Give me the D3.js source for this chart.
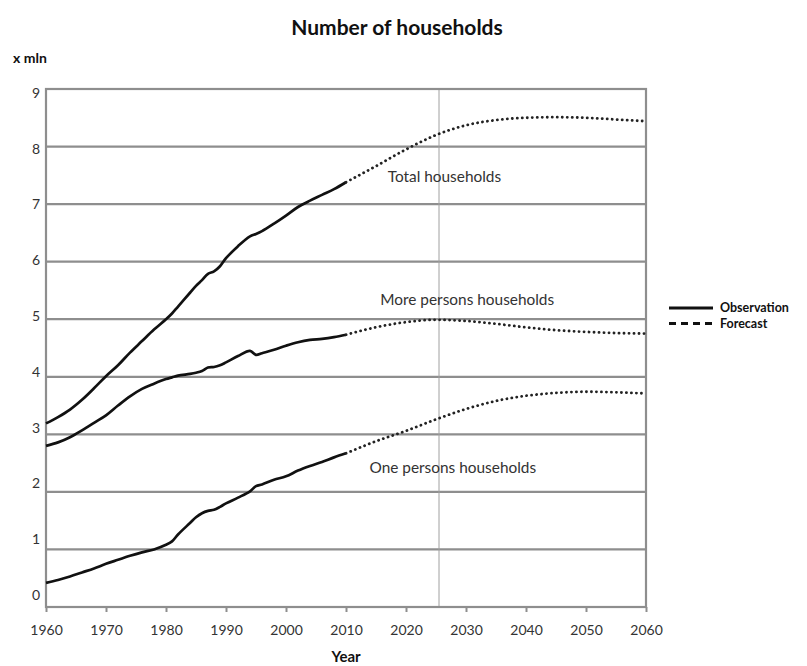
<!DOCTYPE html>
<html>
<head>
<meta charset="utf-8">
<script src="https://cdn.jsdelivr.net/npm/d3@7"></script>
<style>
  html, body { margin: 0; padding: 0; background: #fff; }
  svg { display: block; font-family: Lato, "Open Sans", sans-serif; }
</style>
</head>
<body>
<svg id="chart" width="807" height="666"></svg>
<script>
// Households in millions: observed series (solid) and projection (dotted)
const obsYears = [1960, 1962, 1964, 1966, 1968, 1970, 1972, 1974, 1976, 1978, 1980, 1981, 1982, 1984, 1985, 1986, 1987, 1988, 1989, 1990, 1992, 1994, 1995, 1996, 1998, 2000, 2002, 2004, 2006, 2008, 2010];
const obsTotal = [3.19, 3.30, 3.43, 3.60, 3.80, 4.01, 4.20, 4.42, 4.62, 4.82, 5.00, 5.10, 5.22, 5.46, 5.58, 5.68, 5.79, 5.83, 5.92, 6.06, 6.27, 6.44, 6.48, 6.53, 6.66, 6.80, 6.95, 7.06, 7.16, 7.26, 7.38];
const obsMore  = [2.80, 2.86, 2.95, 3.07, 3.20, 3.33, 3.50, 3.66, 3.79, 3.88, 3.96, 3.99, 4.02, 4.05, 4.07, 4.10, 4.16, 4.17, 4.20, 4.25, 4.36, 4.45, 4.38, 4.41, 4.47, 4.54, 4.60, 4.64, 4.66, 4.69, 4.73];
const obsOne   = [0.42, 0.47, 0.53, 0.60, 0.67, 0.75, 0.82, 0.89, 0.95, 1.00, 1.08, 1.14, 1.26, 1.46, 1.56, 1.63, 1.67, 1.69, 1.74, 1.80, 1.90, 2.01, 2.10, 2.13, 2.21, 2.27, 2.37, 2.45, 2.52, 2.60, 2.67];

const fcYears = [2010, 2015, 2020, 2025, 2030, 2035, 2040, 2045, 2050, 2055, 2060];
const fcTotal = [7.38, 7.66, 7.95, 8.20, 8.37, 8.46, 8.50, 8.51, 8.50, 8.47, 8.44];
const fcMore  = [4.73, 4.86, 4.95, 4.99, 4.97, 4.92, 4.86, 4.81, 4.78, 4.76, 4.75];
const fcOne   = [2.67, 2.88, 3.06, 3.26, 3.44, 3.58, 3.67, 3.72, 3.74, 3.73, 3.71];

const seriesNames = ["Total households", "More persons households", "One persons households"];
// label anchor (year, value) for each series name
const seriesLabelAt = [[2026.4, 7.38], [2030.2, 5.24], [2027.8, 2.33]];

const xTicks = [1960, 1970, 1980, 1990, 2000, 2010, 2020, 2030, 2040, 2050, 2060];
const yTicks = [0, 1, 2, 3, 4, 5, 6, 7, 8, 9];
const markerYear = 2025.5;
const legendItems = ["Observation", "Forecast"];

const svg = d3.select("#chart");
const plot = { left: 46, right: 646, top: 89, bottom: 607 };

const x = d3.scaleLinear().domain([1960, 2060]).range([plot.left, plot.right]);
const y = d3.scaleLinear().domain([0, 9]).range([plot.bottom, plot.top]);
// tick text sits on its own slightly compressed ladder
const yLabel = d3.scaleLinear().domain([0, 9]).range([595, 93]);

const gridColor = "#8e8e8e";

// horizontal gridlines
svg.append("g")
  .selectAll("line")
  .data(yTicks.filter(v => v > 0 && v < 9))
  .join("line")
  .attr("x1", plot.left).attr("x2", plot.right)
  .attr("y1", d => y(d)).attr("y2", d => y(d))
  .attr("stroke", gridColor).attr("stroke-width", 2.2);

// vertical reference line
svg.append("line")
  .attr("x1", x(markerYear)).attr("x2", x(markerYear))
  .attr("y1", plot.top).attr("y2", plot.bottom)
  .attr("stroke", "#a0a0a0").attr("stroke-width", 1);

// plot frame
svg.append("rect")
  .attr("x", plot.left).attr("y", plot.top)
  .attr("width", plot.right - plot.left).attr("height", plot.bottom - plot.top)
  .attr("fill", "none").attr("stroke", gridColor).attr("stroke-width", 2.2);

// x axis ticks and labels
const xAxis = d3.axisBottom(x).tickValues(xTicks).tickFormat(d3.format("d")).tickSize(5).tickPadding(13);
const gx = svg.append("g").attr("transform", `translate(0,${plot.bottom})`).call(xAxis);
gx.select(".domain").remove();
gx.selectAll(".tick line").attr("stroke", gridColor).attr("stroke-width", 2);
gx.selectAll(".tick text").attr("fill", "#333").attr("font-size", 14)
  .attr("font-family", "Lato, 'Open Sans', sans-serif");

// y labels
svg.append("g")
  .selectAll("text")
  .data(yTicks)
  .join("text")
  .attr("x", 40).attr("y", d => yLabel(d))
  .attr("dy", "0.35em")
  .attr("text-anchor", "end")
  .attr("fill", "#333").attr("font-size", 14)
  .text(d => d);

// series
const smooth = d3.line().x(d => x(d[0])).y(d => y(d[1])).curve(d3.curveMonotoneX);
const traced = d3.line().x(d => x(d[0])).y(d => y(d[1])).curve(d3.curveCatmullRom.alpha(0.5));

const observed = [obsTotal, obsMore, obsOne].map(vals => obsYears.map((yr, i) => [yr, vals[i]]));
const forecast = [fcTotal, fcMore, fcOne].map(vals => fcYears.map((yr, i) => [yr, vals[i]]));

svg.append("g").selectAll("path")
  .data(observed).join("path")
  .attr("d", traced)
  .attr("fill", "none").attr("stroke", "#111").attr("stroke-width", 2.7)
  .attr("stroke-linejoin", "round");

svg.append("g").selectAll("path")
  .data(forecast).join("path")
  .attr("d", smooth)
  .attr("fill", "none").attr("stroke", "#222").attr("stroke-width", 2.8)
  .attr("stroke-linecap", "round")
  .attr("stroke-dasharray", "0.1,4.9");

// series labels
svg.append("g").selectAll("text")
  .data(seriesNames).join("text")
  .attr("x", (d, i) => x(seriesLabelAt[i][0]))
  .attr("y", (d, i) => y(seriesLabelAt[i][1]))
  .attr("text-anchor", "middle")
  .attr("fill", "#333").attr("font-size", 15.4)
  .text(d => d);

// title and axis titles
svg.append("text").attr("x", 397).attr("y", 35).attr("text-anchor", "middle")
  .attr("font-weight", "bold").attr("font-size", 21).attr("fill", "#111")
  .text("Number of households");
svg.append("text").attr("x", 13).attr("y", 63)
  .attr("font-weight", "bold").attr("font-size", 14).attr("fill", "#111")
  .text("x mln");
svg.append("text").attr("x", (plot.left + plot.right) / 2).attr("y", 662).attr("text-anchor", "middle")
  .attr("font-weight", "bold").attr("font-size", 15).attr("fill", "#111")
  .text("Year");

// legend
const legend = svg.append("g").attr("transform", "translate(669,308)");
legend.selectAll("line")
  .data(legendItems).join("line")
  .attr("x1", 0).attr("x2", 44)
  .attr("y1", (d, i) => i * 15.5).attr("y2", (d, i) => i * 15.5)
  .attr("stroke", "#111").attr("stroke-width", 3)
  .attr("stroke-dasharray", (d, i) => i === 0 ? null : "7,5");
legend.selectAll("text")
  .data(legendItems).join("text")
  .attr("x", 51).attr("y", (d, i) => i * 15.5)
  .attr("dy", "0.35em")
  .attr("font-weight", "bold").attr("font-size", 12.5).attr("fill", "#111")
  .text(d => d);
</script>
</body>
</html>
